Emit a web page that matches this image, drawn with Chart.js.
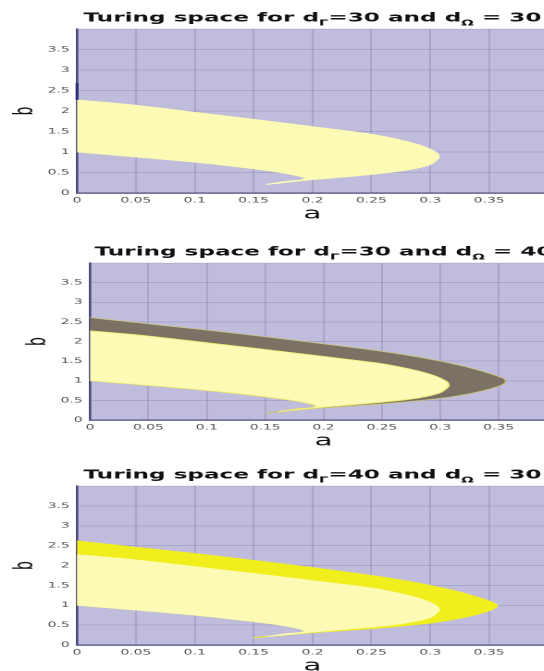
<!DOCTYPE html>
<html><head><meta charset="utf-8">
<script src="https://cdn.jsdelivr.net/npm/chart.js@4.4.1/dist/chart.umd.min.js"></script>
<style>
html,body{margin:0;padding:0;background:#fff;width:544px;height:671px;overflow:hidden;position:relative;}
.wrap{position:absolute;left:0;transform-origin:0 0;}
canvas{display:block;}
</style></head><body>
<div class="wrap" id="w1"><canvas id="c1"></canvas></div>
<div class="wrap" id="w2"><canvas id="c2"></canvas></div>
<div class="wrap" id="w3"><canvas id="c3"></canvas></div>
<script>
// ---------------- data ----------------
const dGamma = [30, 30, 40];
const dOmega = [30, 40, 30];
const xTickValues = [0, 0.05, 0.1, 0.15, 0.2, 0.25, 0.3, 0.35];
const yTickValues = [0, 0.5, 1, 1.5, 2, 2.5, 3, 3.5];

// Turing region for dΓ=30, dΩ=30 : boundary points [a, b]
const region30_30 = [
  [0,2.27],[0.025,2.21],[0.05,2.14],[0.1,1.97],[0.155,1.78],[0.2,1.62],[0.249,1.44],
  [0.274,1.30],[0.29,1.18],[0.3,1.07],[0.306,0.97],[0.3076,0.88],
  [0.305,0.79],[0.2997,0.69],[0.288,0.60],[0.274,0.53],[0.249,0.45],[0.218,0.37],
  [0.198,0.32],[0.175,0.25],[0.161,0.21],
  [0.178,0.285],[0.188,0.31],[0.193,0.34],[0.192,0.38],[0.187,0.42],[0.175,0.49],
  [0.147,0.60],[0.104,0.74],[0.05,0.88],[0,1.0]
];
// Turing region for dΓ=30, dΩ=40
const region30_40 = [
  [0,2.61],[0.05,2.45],[0.1,2.29],[0.15,2.12],[0.2,1.94],[0.25,1.75],[0.28,1.61],
  [0.3,1.50],[0.32,1.37],[0.335,1.25],[0.347,1.14],[0.354,1.06],[0.356,1.0],
  [0.355,0.93],[0.35,0.86],[0.34,0.77],[0.325,0.67],[0.3,0.55],[0.27,0.46],[0.24,0.39],
  [0.2,0.31],[0.175,0.245],[0.15,0.18],
  [0.17,0.25],[0.185,0.30],[0.193,0.34],[0.192,0.38],[0.187,0.42],[0.175,0.49],
  [0.147,0.60],[0.104,0.74],[0.05,0.88],[0,1.0]
];
// Turing region for dΓ=40, dΩ=30
const region40_30 = [
  [0,2.62],[0.05,2.46],[0.1,2.30],[0.15,2.13],[0.2,1.95],[0.25,1.75],[0.28,1.61],
  [0.3,1.50],[0.32,1.37],[0.335,1.25],[0.347,1.14],[0.354,1.06],[0.357,1.0],
  [0.355,0.93],[0.35,0.86],[0.34,0.77],[0.325,0.67],[0.3,0.55],[0.27,0.46],[0.24,0.39],
  [0.2,0.31],[0.175,0.245],[0.15,0.18],
  [0.17,0.25],[0.185,0.30],[0.193,0.34],[0.192,0.38],[0.187,0.42],[0.175,0.49],
  [0.147,0.60],[0.104,0.74],[0.05,0.88],[0,1.0]
];
const axisMark1 = [[0,2.27],[0,2.68]];

// ---------------- styling / layout ----------------
const STRETCH = 1.85;           // the figure is stretched horizontally
const CW = 310;                 // internal canvas width
const FONT = '"DejaVu Sans", "Liberation Sans", sans-serif';
const BG = '#bfbcdc';
const LIGHT = '#fcfab4';
const DARK = '#7b7265';
const BRIGHT = '#f1ee1e';

const panels = [
  {top:0,   h:224, left:77, right:548, plotTop:29,  bX:26,
   layers:[{data:region30_30, color:LIGHT, border:LIGHT}], mark:axisMark1},
  {top:230, h:221, left:90, right:557, plotTop:33,  bX:39,
   layers:[{data:region30_30, color:LIGHT, border:'#eeea70'},{data:region30_40, color:DARK, border:'#c8c27a'}]},
  {top:450, h:226, left:77, right:548, plotTop:36,  bX:26,
   layers:[{data:region30_30, color:LIGHT, border:LIGHT},{data:region40_30, color:BRIGHT, border:BRIGHT}]}
];

const bgPlugin = {
  id:'bg',
  beforeDraw(chart){
    const {ctx, chartArea:a} = chart;
    ctx.save(); ctx.fillStyle = BG;
    ctx.fillRect(a.left, a.top, a.right-a.left, a.bottom-a.top);
    ctx.restore();
  }
};
const titlePlugin = {
  id:'subTitle',
  afterDraw(chart, args, opts){
    const {ctx, chartArea:a} = chart;
    const parts = opts.parts;
    const main = 'bold 12.5px ' + FONT, sub = 'bold 8px ' + FONT;
    ctx.save();
    let w = 0;
    parts.forEach(p => { ctx.font = p.sub ? sub : main; w += ctx.measureText(p.t).width; });
    let x = (a.left + a.right)/2 - w/2;
    const y = a.top - 7.5;
    ctx.fillStyle = '#111'; ctx.textBaseline = 'alphabetic'; ctx.textAlign = 'left';
    parts.forEach(p => {
      ctx.font = p.sub ? sub : main;
      ctx.fillText(p.t, x, p.sub ? y + 4 : y);
      x += ctx.measureText(p.t).width;
    });
    ctx.restore();
  }
};

const fmt = v => String(parseFloat(v.toFixed(2)));

panels.forEach((P, i) => {
  const wrap = document.getElementById('w'+(i+1));
  wrap.style.top = P.top + 'px';
  wrap.style.transform = 'scaleX(' + STRETCH + ')';
  const cv = document.getElementById('c'+(i+1));
  cv.width = CW; cv.height = P.h;
  const yW = P.left / STRETCH;
  const padR = CW - P.right / STRETCH;
  const datasets = P.layers.map(L => ({
    data: L.data.map(([x,y]) => ({x,y})),
    showLine:true, pointRadius:0, borderWidth:0.8, borderColor:L.border,
    backgroundColor:L.color, fill:'shape', tension:0.25
  }));
  if (P.mark) datasets.unshift({
    data:P.mark.map(([x,y])=>({x,y})), showLine:true, pointRadius:0,
    borderColor:'#2e2e78', borderWidth:1.6, fill:false, clip:4
  });
  new Chart(cv, {
    type:'scatter',
    data:{datasets},
    plugins:[bgPlugin, titlePlugin],
    options:{
      responsive:false, animation:false, devicePixelRatio:2,
      layout:{padding:{top:P.plotTop, right:padR, left:0, bottom:0}},
      plugins:{
        legend:{display:false}, tooltip:{enabled:false},
        subTitle:{parts:[{t:'Turing space for d'},{t:'Γ',sub:true},{t:'='+dGamma[i]+' and d'},{t:'Ω',sub:true},{t:' = '+dOmega[i]}]}
      },
      scales:{
        x:{
          type:'linear', min:0, max:0.4, z:1,
          afterBuildTicks(s){ s.ticks = xTickValues.concat([0.4]).map(v=>({value:v})); },
          afterFit(s){ s.height = 31; },
          grid:{color:'rgba(60,55,120,0.16)', lineWidth:1, drawTicks:false},
          border:{display:true, color:'#4a4a7c', width:1.3},
          ticks:{autoSkip:false, maxRotation:0, padding:3, color:'#555',
                 font:{family:FONT, size:7.5},
                 callback:v => v > 0.38 ? '' : fmt(v)},
          title:{display:true, text:'a', color:'#111', padding:0, font:{family:FONT, size:16}}
        },
        y:{
          type:'linear', min:0, max:4, z:1,
          afterBuildTicks(s){ s.ticks = yTickValues.concat([4]).map(v=>({value:v})); },
          afterFit(s){ s.width = yW; },
          grid:{color:'rgba(60,55,120,0.16)', lineWidth:1, drawTicks:false},
          border:{display:true, color:'#4a4a7c', width:1.3},
          ticks:{padding:4, color:'#555', font:{family:FONT, size:7.5},
                 callback:v => v > 3.9 ? '' : fmt(v)},
          title:{display:true, text:'b', color:'#111',
                 padding:{top:P.bX/STRETCH - 8.4, bottom:0},
                 font:{family:FONT, size:14}}
        }
      }
    }
  });
});
</script>
</body></html>
